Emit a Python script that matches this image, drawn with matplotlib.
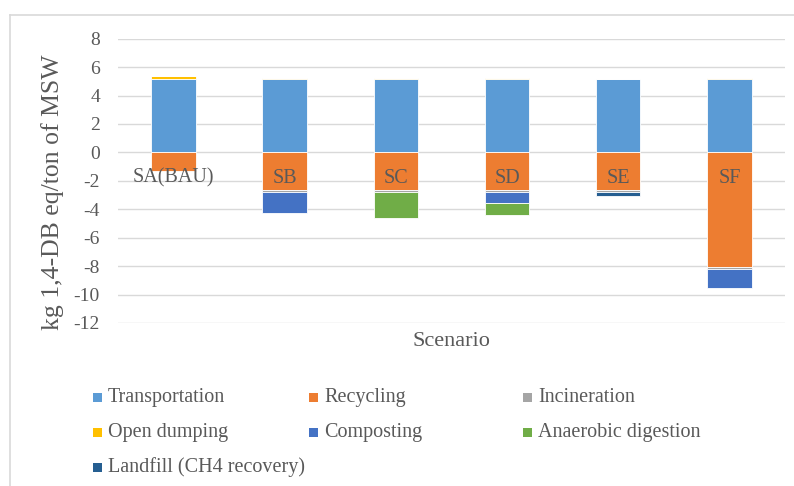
import numpy as np
import matplotlib.pyplot as plt
from matplotlib.patches import Rectangle
from matplotlib.lines import Line2D

plt.rcParams['font.family'] = ['Liberation Serif', 'DejaVu Serif']
plt.rcParams['axes.unicode_minus'] = False

scenarios = ['SA(BAU)', 'SB', 'SC', 'SD', 'SE', 'SF']
series = ['Transportation', 'Recycling', 'Incineration', 'Open dumping',
          'Composting', 'Anaerobic digestion', 'Landfill (CH4 recovery)']
colors = ['#5B9BD5', '#ED7D31', '#A5A5A5', '#FFC000',
          '#4472C4', '#70AD47', '#255E91']

transportation = [5.17, 5.17, 5.17, 5.17, 5.17, 5.17]
recycling = [-1.32, -2.66, -2.66, -2.66, -2.66, -8.07]
incineration = [0.0, -0.15, -0.15, -0.15, -0.15, -0.10]
open_dumping = [0.24, 0.06, 0.06, 0.06, 0.0, 0.03]
composting = [0.0, -1.45, 0.0, -0.72, 0.0, -1.40]
anaerobic = [0.0, 0.0, -1.78, -0.90, 0.0, 0.0]
landfill = [0.0, 0.0, 0.0, 0.0, -0.25, 0.0]

values = [transportation, recycling, incineration, open_dumping,
          composting, anaerobic, landfill]

grey = '#595959'
W, H = 794, 486
fig = plt.figure(figsize=(W / 100, H / 100), dpi=100)
ax = fig.add_axes([0.1486, 0.3354, 0.840, 0.585])

x = np.arange(len(scenarios))
pos_base = np.zeros(len(scenarios))
neg_base = np.zeros(len(scenarios))
for vals, c in zip(values, colors):
    v = np.array(vals)
    base = np.where(v >= 0, pos_base, neg_base)
    ax.bar(x, v, 0.4, bottom=base, color=c, edgecolor='white', linewidth=0.6, zorder=3)
    pos_base += np.where(v >= 0, v, 0)
    neg_base += np.where(v < 0, v, 0)

ax.set_xlim(-0.5, len(scenarios) - 0.5)
ax.set_ylim(-12, 8)
ax.set_yticks(np.arange(-12, 9, 2))
ax.yaxis.grid(True, color='#D9D9D9', linewidth=1.0, zorder=0)
ax.tick_params(axis='y', length=0, pad=13, labelsize=14, labelcolor=grey)
ax.set_xticks([])
for s in ax.spines.values():
    s.set_visible(False)

# category names drawn just under the zero line, on top of the bars
for xi, name in zip(x, scenarios):
    ax.annotate(name, (xi, 0), xytext=(0, -18.5), textcoords='offset points',
                ha='center', va='center', fontsize=14.5, color=grey, zorder=6)

fig.text(53 / W, 1 - 192 / H, 'kg 1,4-DB eq/ton of MSW', rotation=90,
         ha='center', va='center', fontsize=18.5, color=grey)
fig.text(451 / W, 1 - 341 / H, 'Scenario', ha='center', va='center',
         fontsize=16, color=grey)

# legend laid out in three equal columns
col_x = [93, 309, 523]
row_y = [397, 432, 467]
for i, (name, c) in enumerate(zip(series, colors)):
    r, k = divmod(i, 3)
    fig.patches.append(Rectangle((col_x[k] / W, 1 - (row_y[r] + 4.5) / H),
                                 9 / W, 9 / H, transform=fig.transFigure,
                                 facecolor=c, edgecolor='none'))
    fig.text((col_x[k] + 15) / W, 1 - row_y[r] / H, name, ha='left', va='center',
             fontsize=14.5, color=grey)

# chart area border
fig.lines.append(Line2D([10 / W, 10 / W], [0, 1 - 15 / H], transform=fig.transFigure,
                        color='#D9D9D9', linewidth=1.2))
fig.lines.append(Line2D([10 / W, 1], [1 - 15 / H, 1 - 15 / H], transform=fig.transFigure,
                        color='#D9D9D9', linewidth=1.2))

fig.savefig('out.png', dpi=100)
